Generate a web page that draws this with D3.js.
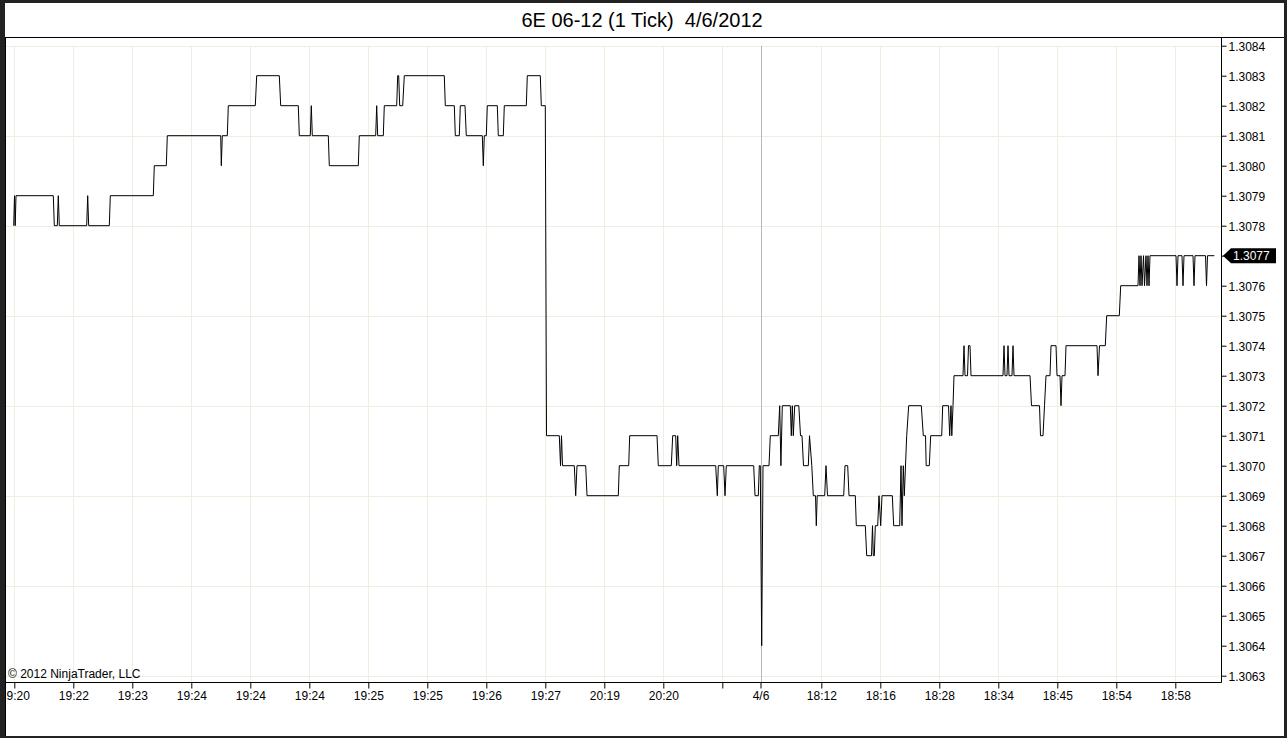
<!DOCTYPE html>
<html><head><meta charset="utf-8">
<script src="https://cdn.jsdelivr.net/npm/d3@7"></script>
<style>html,body{margin:0;padding:0;background:#222;overflow:hidden}</style>
</head><body>
<svg id="c" width="1287" height="738"></svg>
<script>
// ---------------- data ----------------
const chartTitle = "6E 06-12 (1 Tick)  4/6/2012";
const copyright = "\u00a9 2012 NinjaTrader, LLC";

const priceTicks = [1.3063,1.3064,1.3065,1.3066,1.3067,1.3068,1.3069,1.3070,1.3071,1.3072,1.3073,
  1.3074,1.3075,1.3076,1.3077,1.3078,1.3079,1.3080,1.3081,1.3082,1.3083,1.3084];
const gridPrices = [1.3084,1.3081,1.3078,1.3075,1.3072,1.3069,1.3066,1.3063];

// bar positions of the time-axis ticks and their labels
const timeTickBars = [8.3,67.3,126.3,185.3,244.3,303.3,362.3,421.3,480.3,539.3,598.3,657.3,716.3,
  754.5,815.3,874.3,933.3,992.3,1051.3,1110.3,1169.3];
const timeTickLabels = ["19:20","19:22","19:23","19:24","19:24","19:24","19:25","19:25","19:26",
  "19:27","20:19","20:20","","4/6","18:12","18:16","18:28","18:34","18:45","18:54","18:58"];
const sessionBreakBar = 754.5;
const lastPrice = 1.3077;

// tick series: [bar, price]
const series = [
[7.7,1.3078],[8.5,1.3079],[9.2,1.3078],[10,1.3079],[47.3,1.3079],[48.3,1.3078],[51.3,1.3078],[52.3,1.3079],
[53.3,1.3078],[80.7,1.3078],[81.7,1.3079],[82.7,1.3078],[103.3,1.3078],[104.3,1.3079],[147.3,1.3079],
[148.3,1.3080],[160.3,1.3080],[161.3,1.3081],[214.7,1.3081],[215.3,1.3080],[216.3,1.3081],[221.3,1.3081],
[222.3,1.3082],[249.3,1.3082],[250.7,1.3083],[273.3,1.3083],[274.7,1.3082],[292.3,1.3082],[293.3,1.3081],
[304.3,1.3081],[305.3,1.3082],[306.3,1.3081],[322.3,1.3081],[323.3,1.3080],[352.3,1.3080],[353.3,1.3081],
[369.7,1.3081],[370.7,1.3082],[371.7,1.3081],[377.3,1.3081],[378.3,1.3082],[390.7,1.3082],[391.7,1.3083],
[392.7,1.3083],[393.7,1.3082],[396.7,1.3082],[398.3,1.3083],[438.3,1.3083],[439.3,1.3082],[448.3,1.3082],
[449.3,1.3081],[453.3,1.3081],[454.3,1.3082],[459,1.3082],[460.3,1.3081],[476.3,1.3081],[477.3,1.3080],
[478.3,1.3081],[480.3,1.3081],[481.3,1.3082],[491.3,1.3082],[492.3,1.3081],[497.3,1.3081],[498.3,1.3082],
[520.3,1.3082],[521.3,1.3083],[534.3,1.3083],[535.3,1.3082],[539.3,1.3082],[540.5,1.3071],[553.3,1.3071],
[554.5,1.3070],[555.5,1.3071],[556.5,1.3070],[568.3,1.3070],[569.7,1.3069],[571,1.3070],[579.7,1.3070],
[581,1.3069],[612.3,1.3069],[613.3,1.3070],[622.7,1.3070],[623.7,1.3071],[651,1.3071],[652.3,1.3070],
[665.3,1.3070],[666.7,1.3071],[669.7,1.3071],[670.7,1.3070],[671.7,1.3071],[673,1.3070],[709.7,1.3070],
[711.3,1.3069],[712.3,1.3070],[717.7,1.3070],[719,1.3069],[720.3,1.3070],[747.7,1.3070],[749,1.3069],
[752.3,1.3069],[753.3,1.3070],[754.3,1.3070],[755.7,1.3064],[757,1.3070],[763,1.3070],[764.3,1.3071],
[772.3,1.3071],[773.7,1.3072],[774.9,1.3070],[776.3,1.3072],[784.3,1.3072],[785.3,1.3071],[786.3,1.3072],
[787.3,1.3071],[788.7,1.3072],[792.8,1.3072],[794.5,1.3071],[796,1.3071],[797.5,1.3070],[802.3,1.3070],
[803.5,1.3071],[805.8,1.3070],[807.3,1.3069],[809.5,1.3069],[810.3,1.3068],[811.2,1.3069],[818.7,1.3069],
[820,1.3070],[821.5,1.3069],[837.7,1.3069],[839,1.3070],[841.7,1.3070],[843,1.3069],[849.3,1.3069],
[850.3,1.3068],[859.3,1.3068],[860.7,1.3067],[865.5,1.3067],[866.5,1.3068],[867.3,1.3067],[868.3,1.3067],
[869.3,1.3068],[871.7,1.3068],[873,1.3069],[874.7,1.3068],[876,1.3069],[886.3,1.3069],[887.7,1.3068],
[893.7,1.3068],[895,1.3070],[896,1.3068],[897.3,1.3070],[898.3,1.3069],[900.7,1.3071],[902.7,1.3072],
[915.3,1.3072],[917.3,1.3071],[919.5,1.3071],[920.2,1.3070],[923.3,1.3070],[924.7,1.3071],[935.7,1.3071],
[936.7,1.3072],[942.5,1.3072],[943.7,1.3071],[945,1.3072],[945.8,1.3071],[947,1.3072],[948,1.3073],
[957,1.3073],[958,1.3074],[959,1.3073],[961.5,1.3073],[962.5,1.3074],[964,1.3074],[965,1.3073],
[997,1.3073],[998,1.3074],[999,1.3073],[1001,1.3073],[1002,1.3074],[1003,1.3073],[1006,1.3073],
[1007,1.3074],[1008,1.3073],[1024,1.3073],[1025.5,1.3072],[1033.5,1.3072],[1034.5,1.3071],[1037,1.3071],
[1038.5,1.3072],[1040,1.3073],[1044,1.3073],[1045,1.3074],[1050,1.3074],[1051,1.3073],[1054,1.3073],
[1055,1.3072],[1056,1.3073],[1059,1.3073],[1060,1.3074],[1091,1.3074],[1092,1.3073],[1093.5,1.3074],
[1099.3,1.3074],[1100.7,1.3075],[1113.3,1.3075],[1114.7,1.3076],[1132,1.3076],[1133,1.3077],[1134,1.3076],
[1135,1.3077],[1136,1.3076],[1137.5,1.3077],[1138.5,1.3076],[1140,1.3077],[1141,1.3076],[1142,1.3077],
[1143,1.3076],[1144,1.3077],[1170,1.3077],[1171,1.3076],[1172,1.3077],[1176,1.3077],[1177,1.3076],
[1178,1.3077],[1187,1.3077],[1188,1.3076],[1189,1.3077],[1199.5,1.3077],[1200.5,1.3076],[1201.5,1.3077],
[1208.3,1.3077]
];

// ---------------- layout ----------------
const W = 1287, H = 738;
const plot = {left: 6, right: 1221, top: 37, bottom: 682};
const font = "'Liberation Sans', Arial, sans-serif";

const svg = d3.select("#c");
const x = d3.scaleLinear().domain([0, 1215]).range([plot.left, plot.right]);
const y = d3.scaleLinear().domain([1.3063, 1.3084]).range([675.7, 45.7]);
const fmt = d3.format(".4f");

// panel background
svg.append("rect").attr("x", 5).attr("y", 3).attr("width", 1279).attr("height", 733).attr("fill", "#fff");

// title
svg.append("text").attr("x", 642).attr("y", 26.7).attr("text-anchor", "middle")
  .style("white-space", "pre").attr("font-family", font).attr("font-size", 20).attr("fill", "#000")
  .text(chartTitle);

// grid
const grid = svg.append("g").attr("stroke", "#efefe1").attr("stroke-width", 1);
grid.selectAll("line.h").data(gridPrices).join("line")
  .attr("x1", plot.left).attr("x2", plot.right)
  .attr("y1", d => Math.round(y(d)) + 0.5).attr("y2", d => Math.round(y(d)) + 0.5);
grid.selectAll("line.v").data(timeTickBars.filter(d => d !== sessionBreakBar)).join("line")
  .attr("x1", d => Math.round(x(d)) + 0.5).attr("x2", d => Math.round(x(d)) + 0.5)
  .attr("y1", y(1.3084)).attr("y2", plot.bottom);
// session break line
svg.append("line").attr("x1", Math.round(x(sessionBreakBar)) + 0.5).attr("x2", Math.round(x(sessionBreakBar)) + 0.5)
  .attr("y1", y(1.3084)).attr("y2", plot.bottom).attr("stroke", "#b8b8b8");

// price line
const line = d3.line().x(d => x(d[0])).y(d => y(d[1]));
svg.append("path").datum(series).attr("d", line).attr("fill", "none")
  .attr("stroke", "#000").attr("stroke-width", 1);

// copyright
svg.append("text").attr("x", 8).attr("y", 678).attr("font-family", font).attr("font-size", 12)
  .attr("fill", "#000").text(copyright);

// axes (the last-price marker replaces the label of its own tick)
const yAxis = d3.axisRight(y).tickValues(priceTicks).tickSize(5).tickPadding(2)
  .tickFormat(d => Math.abs(d - lastPrice) < 1e-9 ? "" : fmt(d));
const gy = svg.append("g").attr("transform", `translate(${plot.right + 0.5},0)`).call(yAxis);
gy.select(".domain").remove();
gy.selectAll("text").attr("font-family", font).attr("font-size", 12).attr("fill", "#000").attr("dy", "0.36em");
gy.selectAll("line").attr("stroke", "#000");

const xAxis = d3.axisBottom(x).tickValues(timeTickBars).tickSize(6).tickPadding(3)
  .tickFormat((d, i) => timeTickLabels[i]);
const gx = svg.append("g").attr("transform", `translate(0,${plot.bottom + 0.5})`).call(xAxis);
gx.select(".domain").remove();
gx.selectAll("text").attr("font-family", font).attr("font-size", 12).attr("fill", "#000");
gx.selectAll("line").attr("stroke", "#000");

// axis frame lines
svg.append("line").attr("x1", plot.right + 0.5).attr("x2", plot.right + 0.5).attr("y1", plot.top).attr("y2", plot.bottom + 0.5).attr("stroke", "#000");
svg.append("line").attr("x1", 5).attr("x2", plot.right + 0.5).attr("y1", plot.bottom + 0.5).attr("y2", plot.bottom + 0.5).attr("stroke", "#000");
svg.append("line").attr("x1", 5).attr("x2", 1284).attr("y1", plot.top + 0.5).attr("y2", plot.top + 0.5).attr("stroke", "#000");
svg.append("line").attr("x1", 5.5).attr("x2", 5.5).attr("y1", plot.top).attr("y2", 736).attr("stroke", "#000");

// last price marker
const ly = y(lastPrice);
svg.append("path").attr("d", `M${plot.right + 2},${ly} L${plot.right + 10},${ly - 7.5} L${plot.right + 55},${ly - 7.5} L${plot.right + 55},${ly + 7.5} L${plot.right + 10},${ly + 7.5} Z`)
  .attr("fill", "#000");
svg.append("text").attr("x", plot.right + 12).attr("y", ly).attr("dy", "0.36em")
  .attr("font-family", font).attr("font-size", 12).attr("fill", "#fff").text(fmt(lastPrice));

// outer dark frame
const frame = svg.append("g").attr("fill", "#222");
frame.append("rect").attr("x", 0).attr("y", 0).attr("width", 5).attr("height", H);
frame.append("rect").attr("x", 0).attr("y", 0).attr("width", W).attr("height", 3);
frame.append("rect").attr("x", 1284).attr("y", 0).attr("width", 3).attr("height", H);
frame.append("rect").attr("x", 0).attr("y", 736).attr("width", W).attr("height", 2);
</script>
</body></html>
